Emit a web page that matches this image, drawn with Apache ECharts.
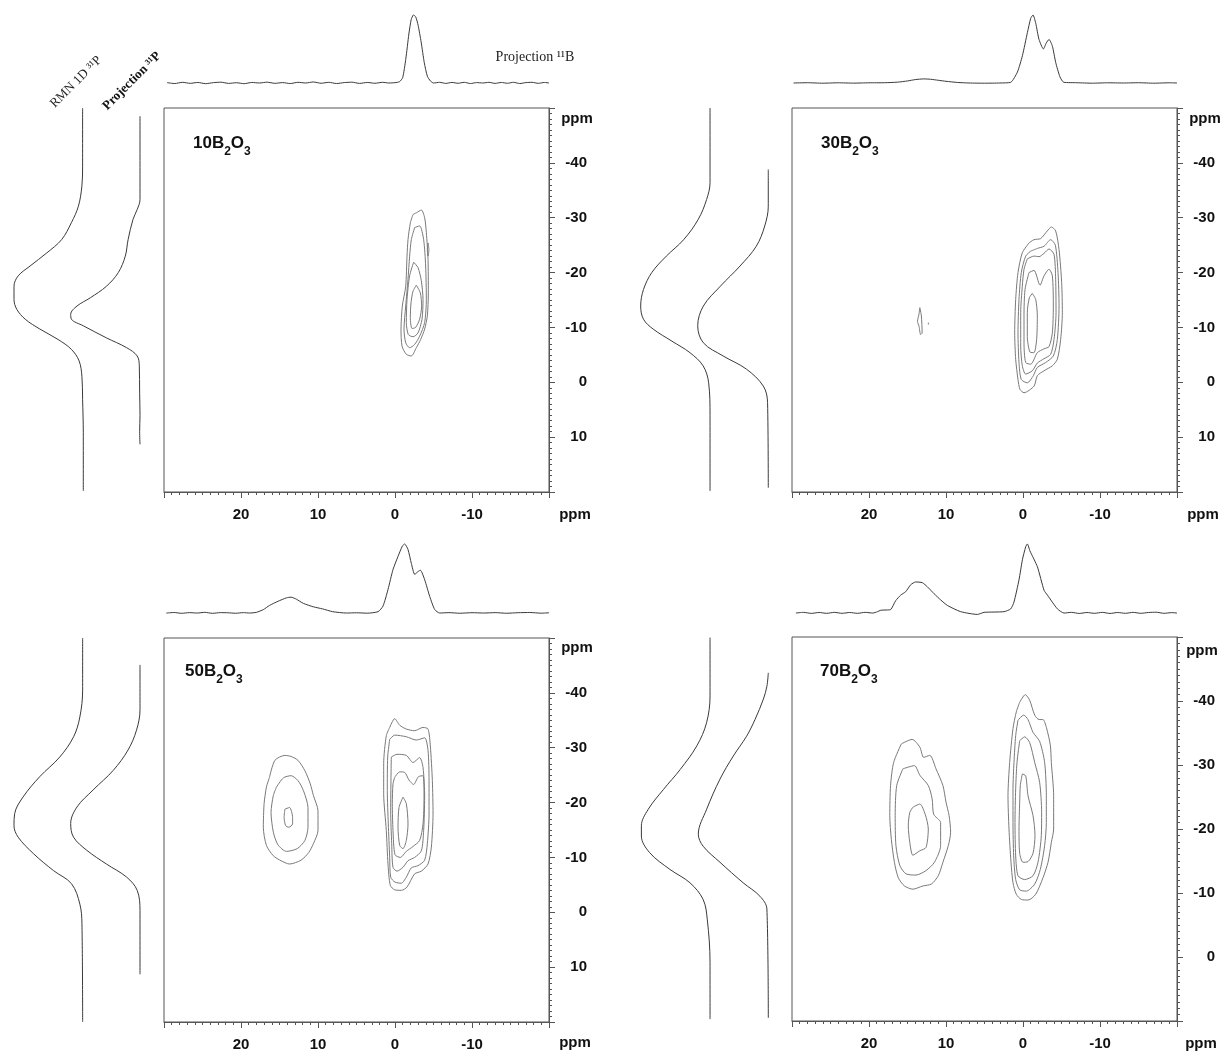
<!DOCTYPE html>
<html><head><meta charset="utf-8">
<script src="https://cdn.jsdelivr.net/npm/echarts@6/dist/echarts.min.js"></script>
<style>html,body{margin:0;padding:0;background:#fff}#c{width:1224px;height:1052px}</style>
</head><body><div id="c"></div>
<script>
// ---------- DATA (ppm values) ----------
const sampleNames = ['10', '30', '50', '70'];
const xTickLabels = [20, 10, 0, -10];

// 11B projections: [delta 11B (ppm), normalised intensity]
const proj11B_10 = [[29.6,0.005],[28.6,-0.008],[27.6,0.01],[26.6,-0.005],[25.6,0.008],[24.6,-0.01],[23.6,0.005],[22.6,0.012],[21.6,-0.006],[20.6,0.004],[19.6,-0.01],[18.6,0.008],[17.6,0],[16.6,0.012],[15.6,-0.005],[14.6,0.006],[13.6,-0.008],[12.6,0.01],[11.6,0],[10.6,0.015],[9.6,-0.004],[8.6,0.01],[7.6,-0.008],[6.6,0.006],[5.6,0.012],[4.6,-0.006],[3.6,0.008],[2.6,-0.004],[1.6,0.01],[0.8,0],[0.0,0.005],[-0.6,0.02],[-1.0,0.08],[-1.4,0.35],[-1.8,0.72],[-2.1,0.93],[-2.4,1.0],[-2.7,0.97],[-3.0,0.85],[-3.4,0.6],[-3.8,0.3],[-4.2,0.1],[-4.6,0.03],[-5.0,0],[-5.8,0.01],[-6.6,-0.006],[-7.4,0.008],[-8.2,-0.004],[-9.0,0.01],[-9.8,-0.008],[-10.6,0.006],[-11.4,0],[-12.2,0.01],[-13.0,-0.006],[-13.8,0.008],[-14.6,-0.004],[-15.4,0.01],[-16.2,-0.008],[-17.0,0.006],[-17.8,0.01],[-18.6,-0.005],[-19.4,0.008],[-20.0,0]];
const proj11B_30 = [[29.8,0],[28,0.004],[26,-0.003],[24,0.003],[22,-0.002],[20,0.003],[18,0.004],[16.3,0.012],[15,0.03],[14,0.05],[12.9,0.06],[12,0.055],[11,0.04],[10,0.025],[8.5,0.008],[7,0],[5,-0.003],[3,0],[1.6,0.01],[0.73,0.16],[0.08,0.4],[-0.57,0.74],[-1.0,0.95],[-1.3,1.0],[-1.65,0.88],[-2.08,0.64],[-2.65,0.5],[-3.03,0.59],[-3.38,0.64],[-3.82,0.54],[-4.25,0.3],[-4.8,0.09],[-5.3,0.01],[-7,0.004],[-9,-0.003],[-11,0.003],[-13,0],[-15,0.004],[-17,-0.003],[-19,0.003],[-20,0]];
const proj11B_50 = [[29.7,0],[28.7,0.008],[27.7,-0.004],[26.7,0.006],[25.7,0],[24.7,0.01],[23.7,-0.004],[22.7,0.006],[21.7,0.004],[20.7,-0.003],[19.7,0.006],[18.9,0],[18.0,0.01],[17.1,0.05],[16.3,0.11],[15.2,0.17],[14.1,0.22],[13.5,0.23],[12.8,0.2],[11.9,0.14],[10.6,0.09],[9.4,0.06],[8.1,0.02],[6.3,0],[5,0.004],[3.6,-0.002],[2.2,0.02],[1.56,0.1],[0.91,0.34],[0.26,0.63],[-0.39,0.82],[-0.96,0.97],[-1.26,1.0],[-1.69,0.92],[-2.12,0.72],[-2.56,0.56],[-2.99,0.6],[-3.3,0.62],[-3.86,0.48],[-4.51,0.24],[-5.16,0.05],[-5.8,0],[-7,0.006],[-8.4,-0.003],[-10,0.005],[-11.5,0],[-13,0.006],[-14.5,-0.003],[-16,0.005],[-17.5,0.008],[-19,-0.002],[-20,0.004]];
const proj11B_70 = [[29.5,0],[28.5,0.01],[27.5,-0.005],[26.5,0.008],[25.5,-0.004],[24.5,0.01],[23.5,-0.004],[22.5,0.008],[21.5,-0.004],[20.5,0.01],[19.5,0.0],[18.9,0.02],[18.48,0.04],[17.6,0.045],[17.18,0.05],[16.53,0.18],[15.88,0.26],[15.23,0.31],[14.58,0.41],[13.94,0.45],[13.07,0.44],[12.42,0.38],[11.55,0.28],[10.69,0.19],[9.82,0.11],[8.09,0.02],[5.92,-0.02],[5.06,0.01],[2.47,0.02],[1.6,0.06],[1.17,0.16],[0.52,0.48],[0.08,0.77],[-0.35,0.96],[-0.57,1.0],[-0.9,0.9],[-1.87,0.67],[-2.73,0.33],[-3.17,0.26],[-4.47,0.06],[-5.33,0],[-6.3,0.01],[-7.3,-0.006],[-8.3,0.008],[-9.3,-0.004],[-10.3,0.01],[-11.3,-0.006],[-12.3,0.008],[-13.3,-0.004],[-14.3,0.01],[-15.3,-0.004],[-16.3,0.008],[-17.3,0.012],[-18.3,-0.004],[-19.3,0.006],[-20,0]];

// 31P traces on the left: [normalised intensity, delta 31P (ppm)]
const rmn31P_10 = [[0.01,-50],[0.01,-39.4],[0.02,-35.8],[0.07,-32.1],[0.17,-29.1],[0.31,-26.0],[0.52,-23.6],[0.76,-21.2],[0.93,-19.4],[0.99,-17.5],[0.99,-15.1],[0.95,-13.3],[0.83,-11.5],[0.62,-9.7],[0.36,-7.8],[0.17,-6.0],[0.06,-3.9],[0.02,-1.1],[0.01,3.1],[0,9.2],[0,19.8]];
const proj31P_10 = [[0,-48.5],[0,-33.3],[0.04,-31.5],[0.1,-29.7],[0.17,-26.0],[0.21,-23.0],[0.31,-20.0],[0.48,-17.5],[0.71,-15.4],[0.9,-13.9],[0.99,-12.4],[0.98,-11.5],[0.81,-10.3],[0.48,-8.1],[0.19,-6.3],[0.04,-4.8],[0.01,-3.0],[0.005,2],[0,6],[0.005,9],[0,11.3]];
const rmn31P_30 = [[0,-50],[0,-36.4],[0.05,-33.3],[0.17,-29.7],[0.38,-26.0],[0.63,-23.0],[0.84,-20.0],[0.96,-16.9],[1.0,-13.9],[0.96,-11.5],[0.82,-9.7],[0.55,-7.5],[0.29,-5.4],[0.1,-3.0],[0.02,0.1],[0,6.1],[0,19.8]];
const proj31P_30 = [[0,-38.8],[0,-32.1],[0.05,-28.5],[0.17,-24.8],[0.4,-21.2],[0.68,-17.5],[0.92,-13.9],[1.0,-10.3],[0.92,-7.2],[0.64,-4.8],[0.31,-2.4],[0.07,0.7],[0.01,3.7],[0,19.2]];
const rmn31P_50 = [[0,-50],[0,-40.5],[0.04,-35.6],[0.13,-32.0],[0.33,-28.3],[0.62,-24.7],[0.86,-21.0],[0.98,-18.0],[0.99,-15.8],[0.93,-13.7],[0.71,-10.7],[0.42,-7.6],[0.16,-5.2],[0.04,-1.5],[0.01,2.1],[0,20]];
const proj31P_50 = [[0,-45.1],[0,-36.9],[0.05,-33.2],[0.17,-29.6],[0.38,-25.9],[0.67,-22.3],[0.9,-19.2],[0.99,-16.2],[0.95,-13.7],[0.76,-11.3],[0.48,-8.8],[0.19,-6.4],[0.04,-4.0],[0,-0.3],[0,11.3]];
const rmn31P_70 = [[0,-49.9],[0,-40.8],[0.05,-36.6],[0.19,-33.0],[0.43,-29.3],[0.67,-26.2],[0.89,-23.1],[0.99,-20.5],[0.99,-18.9],[0.87,-16.3],[0.58,-13.7],[0.29,-11.6],[0.1,-9.0],[0.04,-5.9],[0,0.9],[0,9.7]];
const proj31P_70 = [[0,-44.4],[0.02,-42.3],[0.07,-40.3],[0.19,-37.1],[0.31,-34.5],[0.5,-31.4],[0.69,-27.8],[0.88,-23.1],[1.0,-19.2],[0.93,-17.3],[0.69,-14.8],[0.36,-11.6],[0.12,-9.5],[0.02,-7.5],[0,9.5]];

// 2D contours: each contour is a closed list of [delta 11B, delta 31P] (ppm)
const contours10 = [
  [[-2.34,-30.6],[-2.77,-30.9],[-3.42,-31.4],[-3.85,-30.0],[-4.07,-27.3],[-4.29,-22.4],[-4.33,-16.3],[-4.2,-12.1],[-3.85,-9.7],[-3.33,-7.8],[-2.77,-6.3],[-2.12,-4.8],[-1.47,-5.1],[-0.91,-6.6],[-0.78,-9.7],[-0.95,-13.9],[-1.39,-17.5],[-1.56,-23.0],[-1.69,-26.0],[-2.0,-29.1]],
  [[-2.55,-28.2],[-3.2,-28.5],[-3.72,-26.0],[-3.98,-21.2],[-4.07,-15.1],[-3.85,-10.9],[-3.2,-8.4],[-2.55,-6.9],[-1.9,-6.3],[-1.39,-7.2],[-1.17,-9.7],[-1.39,-13.9],[-1.69,-18.8],[-1.9,-23.0],[-2.12,-26.0]],
  [[-2.42,-21.9],[-2.99,-20.9],[-3.42,-18.5],[-3.64,-15.1],[-3.51,-11.5],[-2.99,-9.0],[-2.34,-8.3],[-1.73,-8.7],[-1.47,-10.9],[-1.56,-15.1],[-1.9,-19.4]],
  [[-2.77,-17.7],[-3.29,-16.3],[-3.46,-13.9],[-3.2,-11.5],[-2.68,-10.0],[-2.21,-9.8],[-1.99,-11.8],[-2.08,-14.5],[-2.34,-16.6]],
  [[-4.3,-25.4],[-4.4,-24.2],[-4.3,-23.0],[-4.2,-24.2]]
];
const contours30 = [
  [[-0.78,-25.4],[-1.43,-26.0],[-2.29,-26.2],[-3.16,-27.6],[-3.68,-28.3],[-4.24,-27.6],[-4.68,-24.2],[-5.02,-18.2],[-5.11,-12.7],[-4.89,-7.8],[-4.46,-4.2],[-3.81,-3.0],[-2.73,-2.1],[-1.86,-1.2],[-1.43,0.7],[-0.13,1.9],[0.39,1.3],[0.65,-0.5],[0.95,-4.2],[1.08,-9.0],[0.95,-15.1],[0.65,-20.0],[0.09,-23.6]],
  [[-1.0,-23.9],[-1.86,-24.4],[-2.73,-24.8],[-3.59,-26.0],[-4.2,-25.0],[-4.55,-20.0],[-4.68,-13.9],[-4.46,-7.8],[-3.94,-4.8],[-2.94,-3.6],[-1.86,-2.7],[-1.34,-1.2],[-0.56,0.1],[0.22,-0.5],[0.52,-3.6],[0.65,-9.0],[0.52,-15.1],[0.22,-20.0],[-0.35,-23.0]],
  [[-0.56,-22.5],[-1.43,-23.0],[-2.08,-22.9],[-2.73,-23.5],[-3.38,-24.3],[-4.03,-23.3],[-4.24,-18.8],[-4.29,-12.7],[-4.03,-7.8],[-3.59,-5.1],[-2.73,-4.3],[-1.86,-3.5],[-1.21,-2.1],[-0.35,-1.5],[0.09,-3.0],[0.3,-6.6],[0.3,-12.7],[0.09,-17.5],[-0.13,-20.6]],
  [[-0.78,-20.0],[-1.43,-20.4],[-2.21,-17.7],[-2.73,-19.4],[-3.38,-20.6],[-3.81,-19.4],[-3.94,-13.9],[-3.81,-9.0],[-3.38,-6.5],[-2.73,-6.1],[-1.86,-5.4],[-1.0,-3.3],[-0.35,-3.6],[-0.13,-7.2],[-0.13,-12.1],[-0.26,-16.9]],
  [[-1.21,-16.2],[-1.65,-15.1],[-1.86,-12.1],[-1.77,-7.8],[-1.43,-5.4],[-0.91,-5.5],[-0.56,-8.4],[-0.56,-12.7],[-0.82,-15.4]],
  [[13.4,-13.6],[13.2,-12.1],[13.1,-9.0],[13.3,-8.7],[13.5,-10.2],[13.7,-11.1],[13.5,-12.5]],
  [[12.3,-10.8],[12.2,-10.7],[12.3,-10.6]]
];
const contours50 = [
  [[16.3,-24.6],[15.6,-27.7],[14.3,-28.6],[13.5,-28.4],[12.6,-27.7],[11.7,-25.8],[11.0,-23.4],[10.6,-21.3],[10.0,-18.5],[10.0,-14.9],[10.6,-12.5],[11.2,-10.9],[12.2,-9.5],[13.7,-8.8],[14.8,-9.4],[15.8,-10.3],[16.7,-12.2],[17.1,-15.5],[17.0,-19.8],[16.7,-22.8]],
  [[15.4,-22.8],[14.5,-24.5],[13.5,-24.9],[12.6,-24.0],[11.9,-22.2],[11.3,-19.1],[11.3,-15.5],[11.7,-13.1],[12.7,-11.6],[14.1,-11.1],[15.2,-12.3],[15.8,-14.6],[16.1,-18.2],[15.8,-21.3]],
  [[14.3,-18.8],[13.7,-19.1],[13.3,-17.3],[13.3,-16.1],[13.8,-15.5],[14.2,-15.8],[14.4,-17.3]],
  [[0.69,-33.7],[0.04,-35.3],[-0.61,-34.1],[-1.47,-33.4],[-2.55,-33.1],[-3.64,-33.7],[-4.29,-33.4],[-4.59,-30.3],[-4.85,-24.0],[-4.94,-17.9],[-4.72,-11.9],[-4.29,-8.8],[-3.42,-7.5],[-2.55,-7.0],[-1.56,-4.6],[-0.82,-4.0],[0.04,-4.1],[0.61,-4.9],[0.91,-8.8],[1.13,-14.9],[1.47,-21.6],[1.47,-27.1],[1.13,-32.2]],
  [[0.69,-31.5],[0.04,-32.3],[-1.47,-32.0],[-2.77,-31.4],[-3.85,-31.8],[-4.29,-29.5],[-4.42,-24.0],[-4.42,-17.9],[-4.2,-12.5],[-3.85,-9.5],[-2.99,-8.5],[-2.12,-8.1],[-1.47,-6.4],[-0.82,-5.3],[0,-5.5],[0.56,-6.4],[0.69,-10.0],[0.87,-16.1],[1.0,-22.2],[0.95,-28.3]],
  [[0.48,-28.3],[-0.26,-28.8],[-1.47,-28.6],[-2.34,-27.3],[-3.2,-28.2],[-3.64,-26.4],[-3.85,-21.0],[-3.72,-14.9],[-3.42,-11.2],[-2.55,-10.0],[-1.69,-9.4],[-1.04,-8.2],[-0.26,-7.5],[0.26,-8.2],[0.43,-12.5],[0.56,-18.5],[0.52,-24.6]],
  [[0.04,-24.6],[-0.61,-25.6],[-1.26,-25.5],[-1.82,-24.1],[-2.42,-23.3],[-3.03,-24.7],[-3.64,-24.9],[-3.77,-21.0],[-3.64,-16.1],[-3.2,-13.1],[-2.34,-12.0],[-1.47,-11.1],[-0.69,-10.0],[0,-10.5],[0.26,-14.9],[0.35,-19.8],[0.26,-23.4]],
  [[-1.04,-21.0],[-1.47,-19.8],[-1.69,-16.1],[-1.47,-13.1],[-1.04,-11.6],[-0.61,-12.2],[-0.39,-15.5],[-0.52,-19.1]]
];
const contours70 = [
  [[15.8,-33.3],[14.4,-34.0],[13.4,-32.8],[12.9,-31.2],[12.1,-31.5],[11.3,-29.4],[10.4,-26.8],[10.0,-24.2],[9.6,-22.1],[9.4,-19.5],[9.7,-17.4],[10.4,-14.8],[11.0,-12.7],[11.9,-11.4],[13.0,-11.1],[14.3,-10.6],[15.4,-11.1],[16.2,-12.4],[16.7,-14.8],[17.1,-18.4],[17.3,-22.1],[17.2,-26.8],[16.8,-30.4]],
  [[15.6,-29.4],[14.1,-29.9],[13.4,-28.4],[12.3,-26.8],[11.8,-24.7],[11.6,-22.3],[10.7,-21.0],[10.7,-17.4],[11.5,-14.8],[12.6,-13.5],[13.9,-12.8],[15.2,-13.0],[16.0,-14.3],[16.5,-17.4],[16.6,-22.1],[16.4,-26.8]],
  [[14.3,-23.4],[13.4,-23.9],[12.7,-22.3],[12.3,-20.0],[12.6,-17.1],[13.4,-16.6],[14.3,-15.9],[14.7,-17.9],[14.9,-20.5],[14.7,-22.6]],
  [[0.43,-39.8],[-0.3,-41.0],[-0.87,-40.1],[-1.52,-37.8],[-2.08,-37.1],[-2.6,-37.1],[-3.03,-35.9],[-3.55,-33.1],[-3.68,-30.4],[-3.98,-25.2],[-3.98,-20.0],[-3.68,-17.9],[-3.25,-14.8],[-2.6,-12.4],[-1.65,-9.8],[-0.65,-8.9],[0.22,-9.0],[0.87,-9.8],[1.3,-11.6],[1.56,-14.8],[1.82,-20.0],[1.95,-25.2],[1.73,-30.4],[1.3,-35.7],[0.87,-38.3]],
  [[0.65,-37.0],[-0.09,-37.8],[-0.65,-37.1],[-1.3,-35.1],[-2.16,-33.7],[-2.81,-30.4],[-3.03,-25.2],[-3.03,-21.0],[-2.81,-17.4],[-2.25,-13.7],[-1.52,-11.4],[-0.43,-10.3],[0.43,-10.5],[0.95,-12.1],[1.21,-15.8],[1.3,-21.0],[1.3,-26.3],[1.17,-30.4],[0.95,-34.6]],
  [[0.43,-33.8],[-0.22,-34.4],[-0.87,-33.5],[-1.52,-30.4],[-2.16,-27.3],[-2.42,-22.6],[-2.38,-19.0],[-1.95,-14.8],[-1.3,-12.7],[-0.22,-12.1],[0.65,-12.7],[0.95,-15.8],[1.04,-21.0],[0.95,-26.3],[0.78,-30.4]],
  [[0.09,-28.6],[-0.35,-28.3],[-0.65,-25.2],[-1.3,-22.1],[-1.56,-19.0],[-1.3,-16.2],[-0.65,-14.9],[0,-14.8],[0.43,-16.2],[0.52,-20.0],[0.43,-24.2],[0.35,-26.8]]
];

// ---------- LAYOUT ----------
const panels = [
  {name: sampleNames[0], left: 164, top: 108, yMin: -50, yMax: 20, contours: contours10, top11B: proj11B_10, rmn: rmn31P_10, proj: proj31P_10,
   topGrid: {top: 13.6, height: 72.8}, rmnGrid: {left: 11.9, width: 74.9}, projGrid: {left: 68.6, width: 74.9}, label: [193, 145], yPpm: [577, 119], xPpm: [575, 515]},
  {name: sampleNames[1], left: 792, top: 108, yMin: -50, yMax: 20, contours: contours30, top11B: proj11B_30, rmn: rmn31P_30, proj: proj31P_30,
   topGrid: {top: 13.6, height: 72.8}, rmnGrid: {left: 639.3, width: 74.2}, projGrid: {left: 696.3, width: 75.5}, label: [821, 145], yPpm: [1205, 119], xPpm: [1203, 515]},
  {name: sampleNames[2], left: 164, top: 638, yMin: -50, yMax: 20, contours: contours50, top11B: proj11B_50, rmn: rmn31P_50, proj: proj31P_50,
   topGrid: {top: 542.6, height: 73.9}, rmnGrid: {left: 11.9, width: 74.2}, projGrid: {left: 68.6, width: 74.9}, label: [185, 673], yPpm: [577, 648], xPpm: [575, 1043]},
  {name: sampleNames[3], left: 792, top: 637, yMin: -50, yMax: 10, contours: contours70, top11B: proj11B_70, rmn: rmn31P_70, proj: proj31P_70,
   topGrid: {top: 542.6, height: 73.9}, rmnGrid: {left: 639.3, width: 74.2}, projGrid: {left: 696.9, width: 74.9}, label: [820, 673], yPpm: [1202, 651], xPpm: [1201, 1044]}
];
const W = 385, H = 384;
const axisColor = '#555';
const labelFont = {fontFamily: 'Liberation Sans, Arial, sans-serif', fontWeight: 'bold', fontSize: 15, color: '#111'};

const grids = [], xAxes = [], yAxes = [], series = [], graphics = [];
function addGrid(g, xa, ya) {
  grids.push(Object.assign({containLabel: false}, g));
  const i = grids.length - 1;
  xAxes.push(Object.assign({gridIndex: i}, xa));
  yAxes.push(Object.assign({gridIndex: i}, ya));
  return i;
}
const hidden = {show: false};
function lineSeries(idx, data, color, width, smooth) {
  series.push({type: 'line', xAxisIndex: idx, yAxisIndex: idx, data: data, showSymbol: false, symbol: 'none',
    smooth: smooth, silent: true, animation: false, clip: false,
    lineStyle: {color: color, width: width}});
}

panels.forEach(p => {
  // main 2D map
  const m = addGrid(
    {left: p.left, top: p.top, width: W, height: H, show: true, borderColor: axisColor, borderWidth: 1, backgroundColor: 'transparent'},
    {type: 'value', min: -20, max: 30, interval: 10, inverse: true, position: 'bottom',
     axisLine: {show: true, onZero: false, lineStyle: {color: axisColor, width: 1}},
     axisTick: {show: true, length: 6, lineStyle: {color: axisColor}},
     minorTick: {show: true, splitNumber: 10, length: 3, lineStyle: {color: axisColor}},
     splitLine: {show: false},
     axisLabel: Object.assign({margin: 15, formatter: v => (xTickLabels.indexOf(v) >= 0 ? String(v) : '')}, labelFont)},
    {type: 'value', min: p.yMin, max: p.yMax, interval: 10, inverse: true, position: 'right',
     axisLine: {show: true, onZero: false, lineStyle: {color: axisColor, width: 1}},
     axisTick: {show: true, length: 6, lineStyle: {color: axisColor}},
     minorTick: {show: true, splitNumber: 10, length: 3, lineStyle: {color: axisColor}},
     splitLine: {show: false},
     axisLabel: Object.assign({margin: 38, align: 'right', formatter: v => (v === p.yMin || v === p.yMax ? '' : String(v))}, labelFont)}
  );
  p.contours.forEach(c => lineSeries(m, c.concat([c[0]]), '#7a7a7a', 1, 0.25));

  // top 11B projection
  const t = addGrid({left: p.left, top: p.topGrid.top, width: W, height: p.topGrid.height},
    Object.assign({type: 'value', min: -20, max: 30, inverse: true}, hidden),
    Object.assign({type: 'value', min: -0.05, max: 1.02}, hidden));
  lineSeries(t, p.top11B, '#3a3a3a', 1, 0.2);

  // left 31P traces
  const r = addGrid({left: p.rmnGrid.left, top: p.top, width: p.rmnGrid.width, height: H},
    Object.assign({type: 'value', min: -0.05, max: 1.02, inverse: true}, hidden),
    Object.assign({type: 'value', min: p.yMin, max: p.yMax, inverse: true}, hidden));
  lineSeries(r, p.rmn, '#3a3a3a', 1, 0.35);
  const q = addGrid({left: p.projGrid.left, top: p.top, width: p.projGrid.width, height: H},
    Object.assign({type: 'value', min: -0.05, max: 1.02, inverse: true}, hidden),
    Object.assign({type: 'value', min: p.yMin, max: p.yMax, inverse: true}, hidden));
  lineSeries(q, p.proj, '#3a3a3a', 1, 0.35);

  // sample label with subscripts
  graphics.push({type: 'text', x: p.label[0], y: p.label[1] - 10, silent: true,
    style: {text: '{m|' + p.name + 'B}{s|2}{m|O}{s|3}', verticalAlign: 'top', align: 'left',
      rich: {m: {fontFamily: 'Liberation Sans, Arial', fontWeight: 'bold', fontSize: 17, lineHeight: 18, verticalAlign: 'top', fill: '#111'},
             s: {fontFamily: 'Liberation Sans, Arial', fontWeight: 'bold', fontSize: 12, lineHeight: 23, verticalAlign: 'bottom', fill: '#111'}}}});
  [p.yPpm, p.xPpm].forEach(pos => graphics.push({type: 'text', x: pos[0], y: pos[1], silent: true,
    style: {text: 'ppm', align: 'center', verticalAlign: 'middle', font: 'bold 15px "Liberation Sans", Arial', fill: '#111'}}));
});

graphics.push({type: 'text', x: 535, y: 57, silent: true,
  style: {text: 'Projection \u00B9\u00B9B', align: 'center', verticalAlign: 'middle', font: '14px "Liberation Serif", "Times New Roman", serif', fill: '#222'}});
graphics.push({type: 'text', x: 76, y: 82, rotation: Math.PI / 4, silent: true,
  style: {text: 'RMN 1D \u00B3\u00B9P', align: 'center', verticalAlign: 'middle', font: '13px "Liberation Serif", "Times New Roman", serif', fill: '#222'}});
graphics.push({type: 'text', x: 132, y: 81, rotation: Math.PI / 4, silent: true,
  style: {text: 'Projection \u00B3\u00B9P', align: 'center', verticalAlign: 'middle', font: 'bold 13px "Liberation Serif", "Times New Roman", serif', fill: '#111'}});

const chart = echarts.init(document.getElementById('c'), null, {renderer: 'canvas'});
chart.setOption({
  backgroundColor: '#fff', animation: false,
  grid: grids, xAxis: xAxes, yAxis: yAxes, series: series, graphic: graphics
});
</script></body></html>
